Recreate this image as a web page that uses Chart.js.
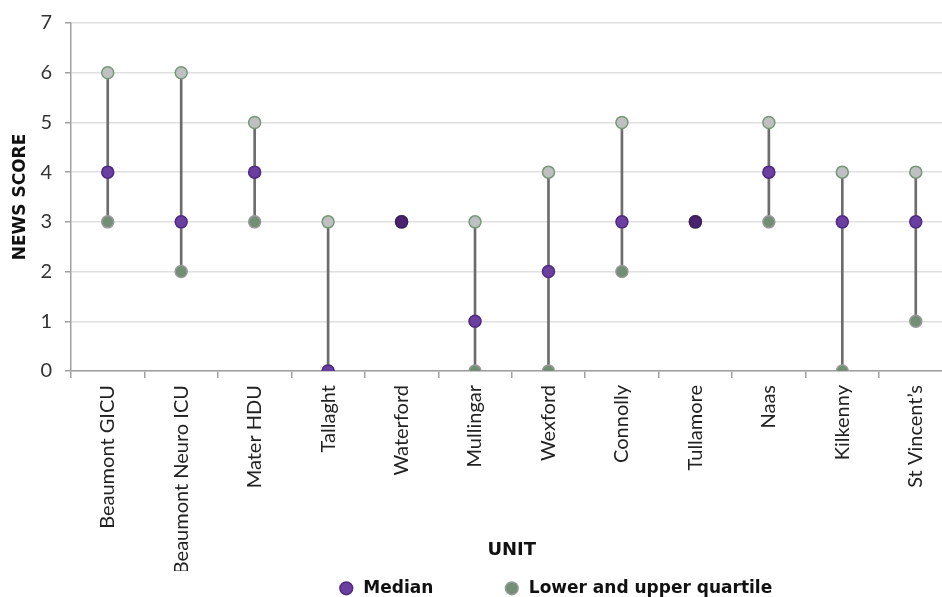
<!DOCTYPE html>
<html>
<head>
<meta charset="utf-8">
<script src="https://cdn.jsdelivr.net/npm/chart.js@4"></script>
<style>
  html, body { margin: 0; padding: 0; background: #fff; overflow: hidden; }
  canvas { display: block; }
</style>
</head>
<body>
<canvas id="c" width="960" height="597"></canvas>
<script>
const units = ["Beaumont GICU", "Beaumont Neuro ICU", "Mater HDU", "Tallaght", "Waterford", "Mullingar", "Wexford", "Connolly", "Tullamore", "Naas", "Kilkenny", "St Vincent\u2019s"];
const lowerQuartile = [3, 2, 3, 0, 3, 0, 0, 2, 3, 3, 0, 1];
const medianScore   = [4, 3, 4, 0, 3, 1, 2, 3, 3, 4, 3, 3];
const upperQuartile = [6, 6, 5, 3, 3, 3, 4, 5, 3, 5, 4, 4];
const yTicks = [0, 1, 2, 3, 4, 5, 6, 7];

const ranges = units.map((u, i) => [lowerQuartile[i], upperQuartile[i]]);
const medianColors = units.map((u, i) => (lowerQuartile[i] === upperQuartile[i]) ? '#4a2370' : '#6b3fa0');
const medianBorders = units.map((u, i) => (lowerQuartile[i] === upperQuartile[i]) ? '#3d1c5e' : '#4e2a80');

const TICK_FONT = 'Lato, "Open Sans", sans-serif';
const BOLD_FONT = '"DejaVu Sans", Lato, sans-serif';

const LEGEND_H = 26;
const LEGEND_PAD = 70;
const LEGEND_SHIFT = 71;

const legendTweak = {
  id: 'legendTweak',
  beforeInit(chart) {
    const lg = chart.legend;
    const origFit = lg.fit;
    lg.fit = function () { origFit.call(this); this.height = LEGEND_H; };
  },
  afterLayout(chart) {
    const lg = chart.legend;
    lg.left += LEGEND_SHIFT;
    lg.right += LEGEND_SHIFT;
    lg.top = 590 - LEGEND_PAD - 10.2;
    lg.bottom = 600;
  }
};

new Chart(document.getElementById('c'), {
  type: 'bar',
  data: {
    labels: units,
    datasets: [
      {
        type: 'bar',
        label: 'range',
        data: ranges,
        backgroundColor: '#6c6c6c',
        borderWidth: 0,
        barThickness: 2,
        order: 4,
        grouped: false
      },
      {
        type: 'line',
        label: 'Lower and upper quartile',
        data: lowerQuartile,
        showLine: false,
        pointRadius: 6,
        pointHoverRadius: 6,
        pointBackgroundColor: '#718f74',
        pointBorderColor: '#9a9a9a',
        pointBorderWidth: 1.5,
        order: 3
      },
      {
        type: 'line',
        label: 'upper',
        data: upperQuartile,
        showLine: false,
        pointRadius: 6,
        pointHoverRadius: 6,
        pointBackgroundColor: '#bfc0c1',
        pointBorderColor: '#779878',
        pointBorderWidth: 1.5,
        order: 2
      },
      {
        type: 'line',
        label: 'Median',
        data: medianScore,
        showLine: false,
        pointRadius: 6,
        pointHoverRadius: 6,
        pointBackgroundColor: medianColors,
        pointBorderColor: medianBorders,
        pointBorderWidth: 1.5,
        order: 1
      }
    ]
  },
  plugins: [legendTweak],
  options: {
    responsive: false,
    animation: false,
    layout: { padding: { left: 8, right: 0, top: 22, bottom: 0 } },
    plugins: {
      tooltip: { enabled: false },
      legend: {
        position: 'bottom',
        labels: {
          usePointStyle: true,
          pointStyle: 'circle',
          boxWidth: 20,
          boxHeight: 9,
          padding: LEGEND_PAD,
          color: '#111',
          font: { family: BOLD_FONT, size: 17, weight: 'bold' },
          filter: (item) => item.text === 'Median' || item.text === 'Lower and upper quartile'
        }
      }
    },
    scales: {
      x: {
        offset: true,
        afterFit: (s) => { s.height = 597 - LEGEND_H - 371; },
        grid: { offset: true, drawOnChartArea: false, drawTicks: true, tickLength: 7, color: '#a0a0a0', lineWidth: 1.5 },
        border: { color: '#a0a0a0', width: 1.5 },
        ticks: { maxRotation: 90, minRotation: 90, color: '#222', padding: 7, autoSkip: false, font: { family: TICK_FONT, size: 20 } },
        title: { display: true, text: 'UNIT', color: '#111', font: { family: BOLD_FONT, size: 18, weight: 'bold' }, padding: { top: 0, bottom: 10 } }
      },
      y: {
        min: 0,
        max: 7,
        afterFit: (s) => { s.width = 63; },
        afterBuildTicks: (axis) => { axis.ticks = yTicks.map(v => ({ value: v })); },
        grid: { color: '#e0e0e0', lineWidth: 1.5, drawTicks: true, tickLength: 6, tickColor: '#a0a0a0' },
        border: { color: '#a0a0a0', width: 1.5 },
        ticks: { color: '#333', padding: 13, font: { family: TICK_FONT, size: 20, lineHeight: 1.0 } },
        title: { display: true, text: 'NEWS SCORE', color: '#111', font: { family: BOLD_FONT, size: 17, weight: 'bold' }, padding: { top: 2, bottom: 0 } }
      }
    }
  }
});
</script>
</body>
</html>
